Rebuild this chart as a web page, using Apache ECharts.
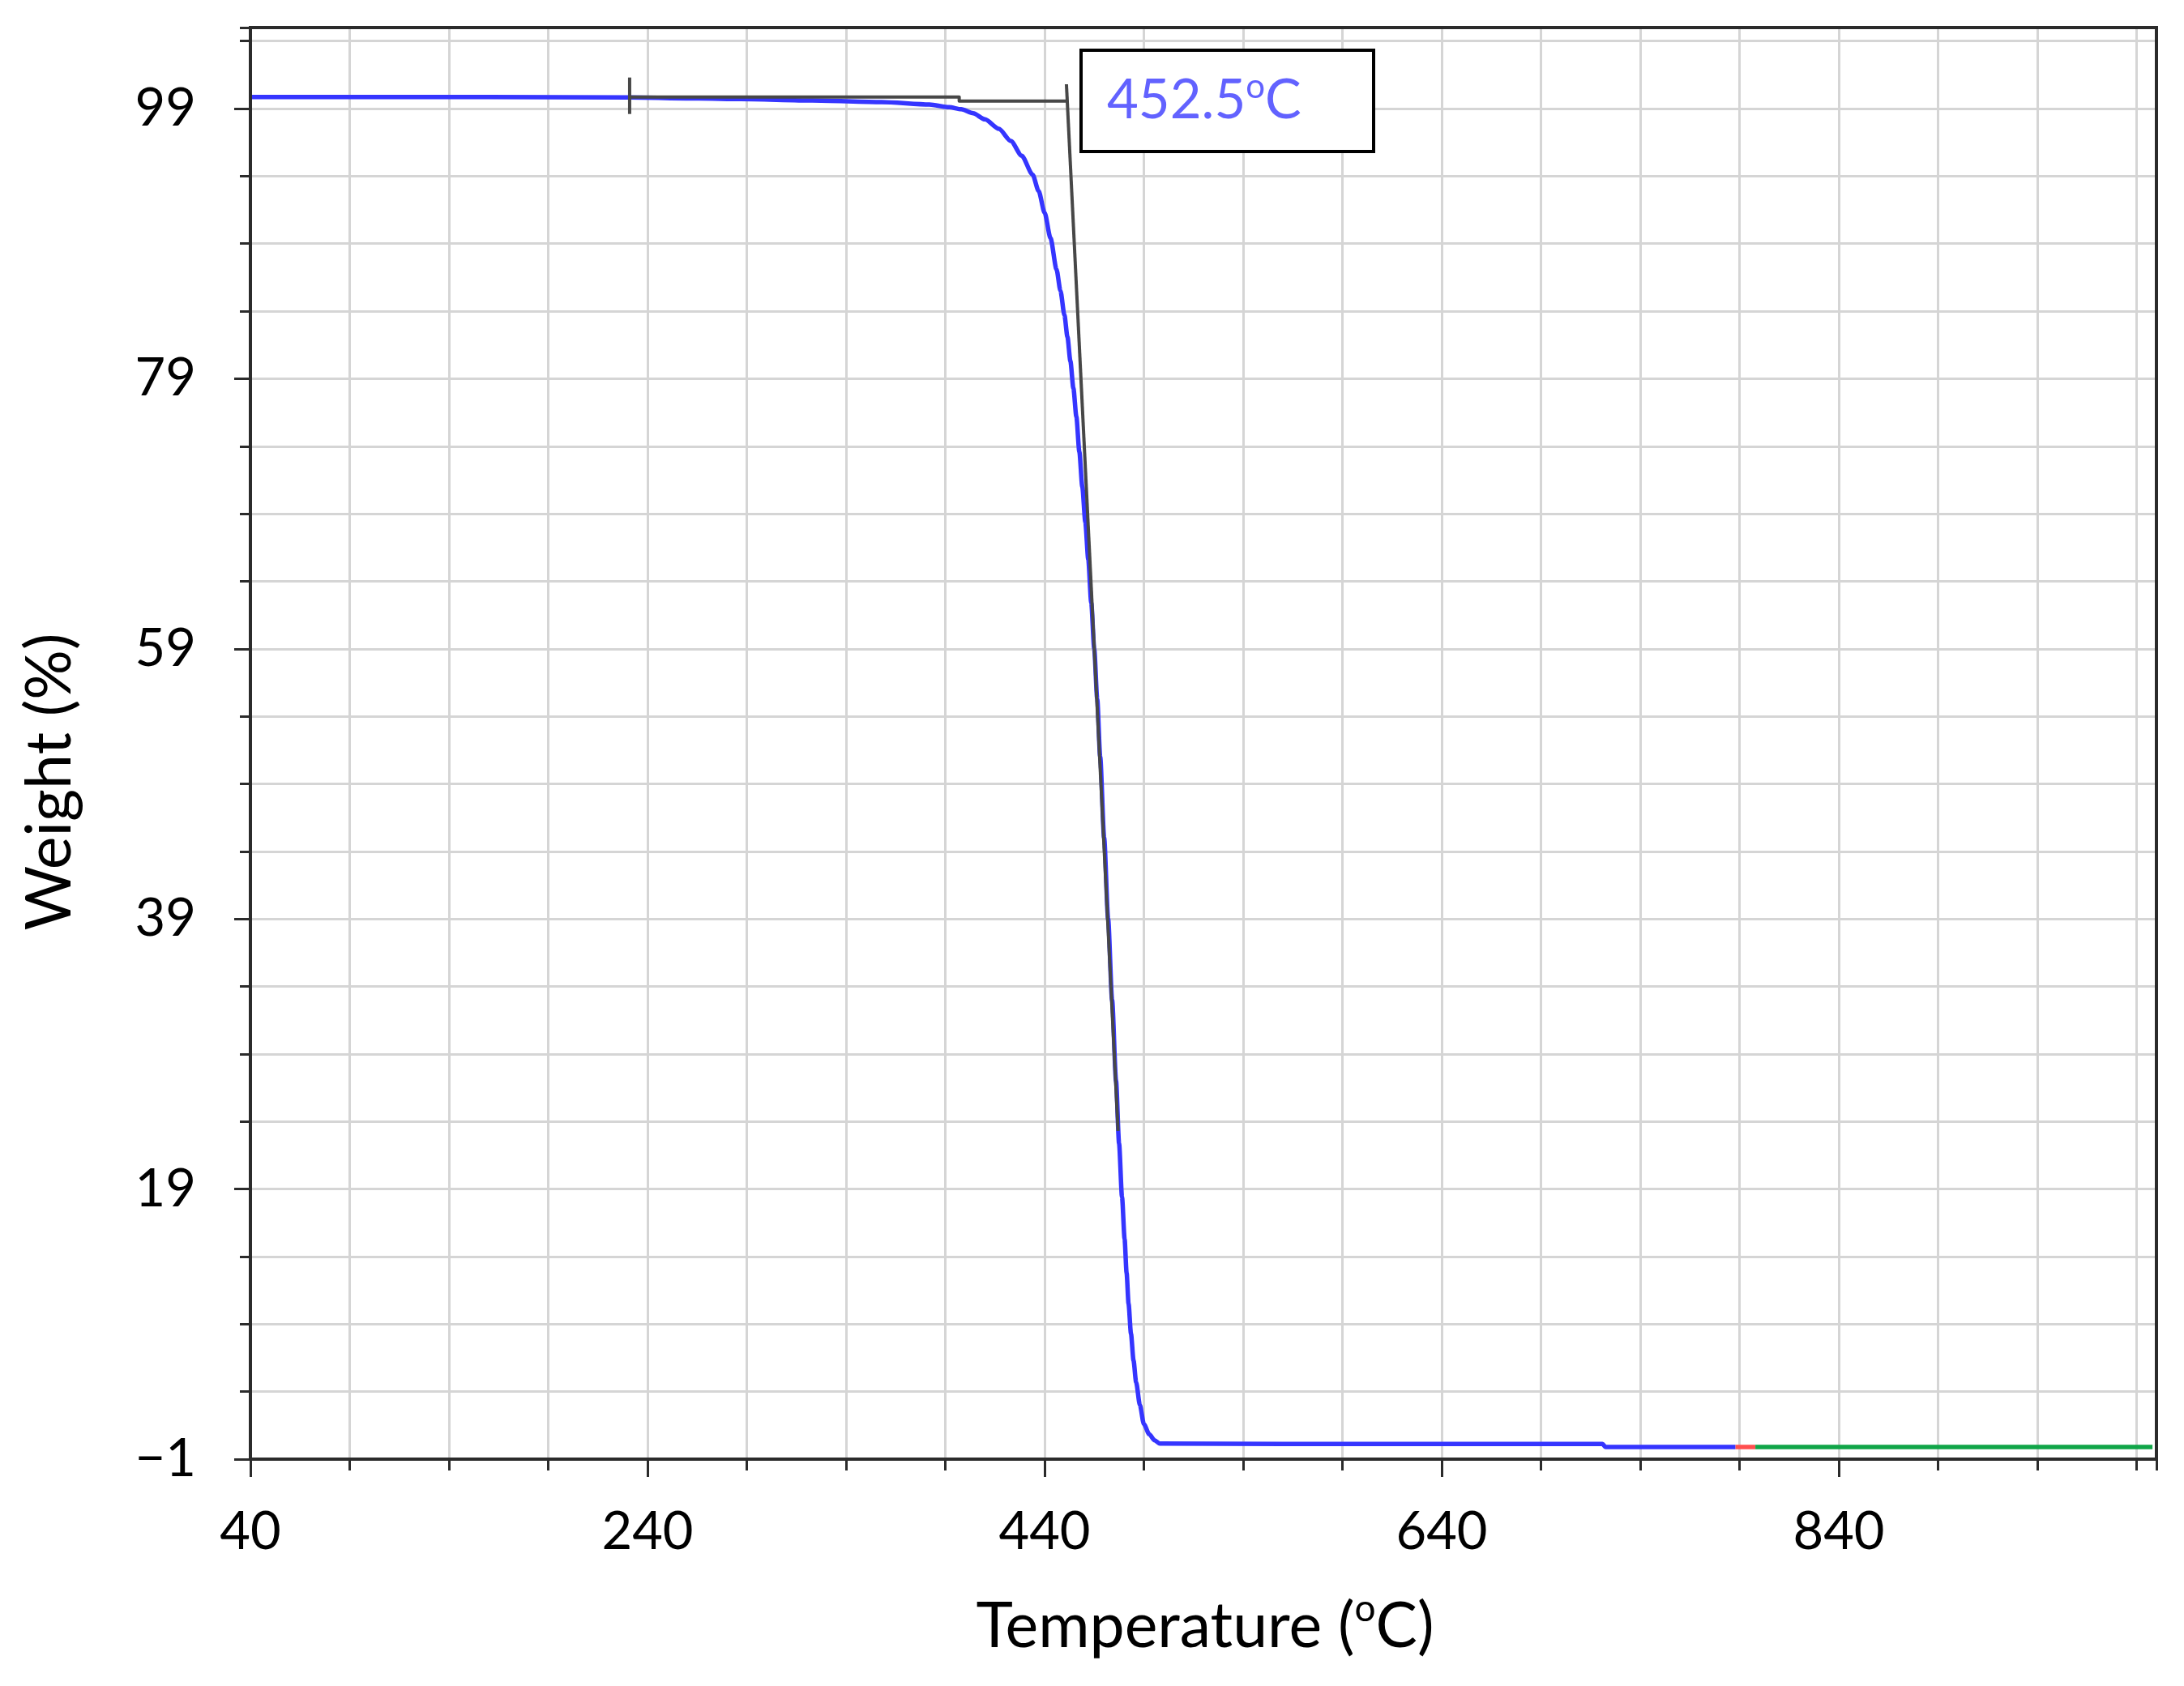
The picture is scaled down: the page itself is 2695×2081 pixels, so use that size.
<!DOCTYPE html>
<html>
<head>
<meta charset="utf-8">
<script src="https://cdn.jsdelivr.net/npm/echarts@6.0.0/dist/echarts.min.js"></script>
<style>
html,body{margin:0;padding:0;background:#fff;}
#chart{width:2695px;height:2081px;}
</style>
</head>
<body>
<div id="chart"></div>
<script>
// ---------- data ----------
const xTickLabels = [40, 240, 440, 640, 840];
const yTickLabels = [-1, 19, 39, 59, 79, 99];
const xRange = [40, 1000];
const yRange = [-1, 105];
const xMinorStep = 50;
const yMinorStep = 5;

// main TGA curve (blue)
const tempBlue = [40, 100, 160, 231, 266, 287, 323, 358, 382, 392, 398, 404, 410, 417, 423, 428.5, 434, 437, 440, 443, 446, 448, 450, 451.5, 453, 454.5, 456, 457.5, 459, 460.5, 462, 463.5, 465, 466.5, 468, 470, 472, 474, 476, 477.5, 479, 480.3, 481.3, 482.3, 483.5, 484.8, 486.1, 488, 490, 492.7, 495.4, 498, 560, 640, 721, 722.5, 788];
const weightBlue = [99.85, 99.85, 99.85, 99.82, 99.75, 99.7, 99.6, 99.48, 99.3, 99.1, 98.95, 98.65, 98.2, 97.5, 96.6, 95.5, 94.1, 92.9, 91.3, 89.4, 87.1, 85.5, 83.7, 82.1, 80.3, 78.3, 76.2, 73.6, 71.0, 68.4, 65.6, 62.4, 59.0, 55.3, 51.0, 45.0, 39.0, 33.0, 27.0, 22.4, 18.4, 15.3, 12.8, 10.5, 8.3, 6.3, 4.7, 3.0, 1.6, 0.85, 0.4, 0.15, 0.13, 0.13, 0.13, -0.1, -0.1];
// short red segment
const tempRed = [788, 798];
const weightRed = [-0.1, -0.1];
// green segment
const tempGreen = [798, 998];
const weightGreen = [-0.1, -0.1];
// onset construction lines (black)
const baselineTemp = [231, 397, 397, 451];
const baselineWeight = [99.85, 99.85, 99.55, 99.55];
const tangentTemp = [451, 477];
const tangentWeight = [100.8, 23.3];
const markerTemp = [231, 231];
const markerWeight = [98.6, 101.3];
// onset annotation
const onsetTemp = 452.5;
const onsetWeight = 99.6;

// ---------- build ----------
const X0 = xRange[0];
const Y0 = yRange[0];
const pairs = (ts, ws) => ts.map((t, i) => [t - X0, ws[i] - Y0]);
const xMajor = xTickLabels[1] - xTickLabels[0];
const yMajor = yTickLabels[1] - yTickLabels[0];
const FONT = 'Lato';
const AXIS_COLOR = '#2b2b2b';
const GRID_COLOR = '#d5d5d5';
const LABEL_BLUE = '#6262ff';

const fmtY = v => {
  const n = Math.round(v + Y0);
  return n < 0 ? '\u2212' + Math.abs(n) : String(n);
};
const fmtX = v => String(Math.round(v + X0));

const lineSeries = (name, ts, ws, color, width, z, smooth) => ({
  name, type: 'line', data: pairs(ts, ws), showSymbol: false, symbol: 'none',
  smooth: smooth || false, smoothMonotone: 'x',
  lineStyle: { color, width, cap: 'butt', join: 'round' }, z, animation: false,
  xAxisIndex: 0, yAxisIndex: 0
});

const chart = echarts.init(document.getElementById('chart'), null, { renderer: 'canvas' });

const titleGraphics = [
  {
    id: 'ytitle', type: 'text', x: 62, y: 965, rotation: Math.PI / 2, z: 20,
    style: { text: 'Weight (%)', fontFamily: FONT, fontSize: 77, fill: '#000',
      align: 'center', verticalAlign: 'middle' }
  },
  {
    id: 'xtitle', type: 'text', x: 1487, y: 2008, z: 20,
    style: {
      text: '{n|Temperature (}{s|o}{n|C)}', fill: '#000',
      align: 'center', verticalAlign: 'middle',
      rich: {
        n: { fontFamily: FONT, fontSize: 77, fill: '#000', lineHeight: 90 },
        s: { fontFamily: FONT, fontSize: 46, fill: '#000', lineHeight: 46, verticalAlign: 'top' }
      }
    }
  }
];

const option = {
  backgroundColor: '#ffffff',
  animation: false,
  grid: {
    left: 309, right: 34, top: 34, bottom: 280,
    show: true, borderColor: AXIS_COLOR, borderWidth: 4,
    backgroundColor: 'transparent', z: 10
  },
  xAxis: [
    {
      type: 'value', min: 0, max: xRange[1] - X0, interval: xMinorStep,
      position: 'bottom',
      axisLine: { show: true, lineStyle: { color: AXIS_COLOR, width: 4 } },
      axisTick: { show: true, length: 14, lineStyle: { color: AXIS_COLOR, width: 3 } },
      axisLabel: { show: false },
      splitLine: { show: true, showMinLine: false, showMaxLine: false, lineStyle: { color: GRID_COLOR, width: 3 } }
    },
    {
      type: 'value', min: 0, max: xRange[1] - X0, interval: xMajor,
      position: 'bottom',
      axisLine: { show: false },
      axisTick: { show: true, length: 22, lineStyle: { color: AXIS_COLOR, width: 3 } },
      axisLabel: { show: true, margin: 58, formatter: fmtX, showMaxLabel: false,
        fontFamily: FONT, fontSize: 65, color: '#000' },
      splitLine: { show: false }
    }
  ],
  yAxis: [
    {
      type: 'value', min: 0, max: yRange[1] - Y0, interval: yMinorStep,
      position: 'left',
      axisLine: { show: true, lineStyle: { color: AXIS_COLOR, width: 4 } },
      axisTick: { show: true, length: 13, lineStyle: { color: AXIS_COLOR, width: 3 } },
      axisLabel: { show: false },
      splitLine: { show: true, showMinLine: false, showMaxLine: false, lineStyle: { color: GRID_COLOR, width: 3 } }
    },
    {
      type: 'value', min: 0, max: yRange[1] - Y0, interval: yMajor,
      position: 'left',
      axisLine: { show: false },
      axisTick: { show: true, length: 20, lineStyle: { color: AXIS_COLOR, width: 3 } },
      axisLabel: { show: true, margin: 67, formatter: fmtY, showMaxLabel: false,
        fontFamily: FONT, fontSize: 65, color: '#000' },
      splitLine: { show: false }
    }
  ],
  series: [
    lineSeries('weight', tempBlue, weightBlue, '#3535ff', 5.5, 3, 0.25),
    lineSeries('segment red', tempRed, weightRed, '#ff4f4f', 5.5, 3),
    lineSeries('segment green', tempGreen, weightGreen, '#10a548', 5.5, 3),
    lineSeries('baseline', baselineTemp, baselineWeight, '#474747', 4, 4),
    lineSeries('tangent', tangentTemp, tangentWeight, '#474747', 4, 4),
    lineSeries('marker', markerTemp, markerWeight, '#474747', 4, 4)
  ],
  graphic: titleGraphics
};
chart.setOption(option);

// onset annotation box, anchored to the onset point through the axes
const p = chart.convertToPixel({ gridIndex: 0 }, [onsetTemp - X0, onsetWeight - Y0]);
chart.setOption({
  graphic: titleGraphics.concat([
    {
      id: 'onsetBox', type: 'group', x: Math.round(p[0]) + 14, y: Math.round(p[1]), z: 30,
      children: [
        {
          type: 'rect', shape: { x: 0, y: -62, width: 361, height: 125 },
          style: { fill: '#ffffff', stroke: '#000000', lineWidth: 4 }, z: 30
        },
        {
          type: 'text', x: 32, y: 0, z: 31,
          style: {
            text: '{n|' + onsetTemp.toFixed(1) + '}{s|o}{n|C}',
            align: 'left', verticalAlign: 'middle',
            rich: {
              n: { fontFamily: FONT, fontSize: 67, fill: LABEL_BLUE, lineHeight: 75 },
              s: { fontFamily: FONT, fontSize: 42, fill: LABEL_BLUE, lineHeight: 42, verticalAlign: 'top' }
            }
          }
        }
      ]
    }
  ])
});
</script>
</body>
</html>
